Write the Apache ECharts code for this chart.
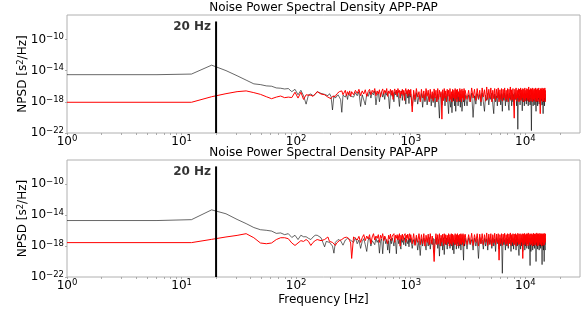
<!DOCTYPE html>
<html lang="en">
<head>
    <meta charset="UTF-8">
    <title>Noise Power Spectral Density</title>
    <script src="https://cdn.jsdelivr.net/npm/echarts@6.0.0/dist/echarts.min.js"></script>
    <style>
        html, body { margin: 0; padding: 0; background: #fff; }
        #chart { width: 587px; height: 314px; }
    </style>
</head>
<body>
    <div id="chart"></div>
    <script>
        // frequency bins [Hz]
        const freqLow = [
            1, 6.1, 12.2, 18.3, 24.4, 30.5, 36.6, 42.7, 48.8, 54.9,
            61, 67.1, 73.2, 79.3, 85.4, 91.6, 97.7, 103.8, 109.9, 116,
            122.1, 128.2, 134.3, 140.4, 146.5, 152.6, 158.7, 164.8, 170.9, 177,
            183.1, 189.2, 195.3, 201.4, 207.5, 213.6, 219.7, 225.8, 231.9, 238,
            244.1, 250.2, 256.3, 262.4, 268.6, 274.7, 280.8, 286.9, 293, 299.1
        ];
        const freqMid = [
            305, 317, 329, 341, 353, 365, 377, 389, 401, 413,
            425, 437, 449, 461, 473, 485, 497, 509, 521, 533,
            545, 557, 569, 581, 593, 605, 617, 629, 641, 653,
            665, 677, 689, 701, 713, 725, 737, 749, 761, 773,
            785, 797, 809, 821, 833, 845, 857, 869, 881, 893,
            905, 917, 929, 941, 953, 965, 977, 989
        ];
        const freqHigh1 = [
            1000, 1030, 1060, 1090, 1120, 1150, 1180, 1210, 1240, 1270,
            1300, 1330, 1360, 1390, 1420, 1450, 1480, 1510, 1540, 1570,
            1600, 1630, 1660, 1690, 1720, 1750, 1780, 1810, 1840, 1870,
            1900, 1930, 1960, 1990, 2020, 2050, 2080, 2110, 2140, 2170,
            2200, 2230, 2260, 2290, 2320, 2350, 2380, 2410, 2440, 2470,
            2500, 2530, 2560, 2590, 2620, 2650, 2680, 2710, 2740, 2770,
            2800, 2830, 2860, 2890, 2920, 2950, 2980
        ];
        const freqHigh2 = [
            3000, 3100, 3200, 3300, 3400, 3500, 3600, 3700, 3800, 3900,
            4000, 4100, 4200, 4300, 4400, 4500, 4600, 4700, 4800, 4900,
            5000, 5100, 5200, 5300, 5400, 5500, 5600, 5700, 5800, 5900,
            6000, 6100, 6200, 6300, 6400, 6500, 6600, 6700, 6800, 6900,
            7000, 7100, 7200, 7300, 7400, 7500, 7600, 7700, 7800, 7900,
            8000, 8100, 8200, 8300, 8400, 8500, 8600, 8700, 8800, 8900,
            9000, 9100, 9200, 9300, 9400, 9500, 9600, 9700, 9800, 9900,
            10000, 10100, 10200, 10300, 10400, 10500, 10600, 10700, 10800, 10900,
            11000, 11100, 11200, 11300, 11400, 11500, 11600, 11700, 11800, 11900,
            12000, 12100, 12200, 12300, 12400, 12500, 12600, 12700, 12800, 12900,
            13000, 13100, 13200, 13300, 13400, 13500, 13600, 13700, 13800, 13900,
            14000, 14100, 14200, 14300, 14400, 14500, 14600, 14700, 14800, 14900,
            15000
        ];
        const freqs = freqLow.concat(freqMid, freqHigh1, freqHigh2);

        // NPSD [s^2/Hz], panel APP-PAP
        const appPapBlack = [
            3e-15, 3e-15, 3.6e-15, 5e-14, 1e-14, 2.2e-15, 6e-16, 2e-16, 1.6e-16, 1.1e-16,
            1e-16, 6e-17, 5.5e-17, 4.4e-17, 5e-17, 2e-17, 4e-17, 8e-18, 3e-17, 6e-18,
            5e-19, 8e-18, 1e-17, 6e-18, 9e-18, 2e-17, 1.5e-17, 1.2e-17, 1.3e-17, 9e-18,
            7e-18, 6e-18, 1.1e-17, 5e-18, 9e-20, 6e-18, 3e-18, 5e-18, 8e-18, 4e-18,
            2e-18, 4.5e-20, 7e-18, 1.2e-17, 4e-18, 9e-18, 2e-18, 1.4e-17, 6e-18, 1e-17,
            // 305 - 989 Hz
            1e-17, 4e-18, 1.5e-17, 6e-18, 2e-17, 2.5e-19, 8e-18, 1.2e-17, 4e-19, 1e-17,
            5e-18, 2e-17, 3e-18, 1.5e-17, 8e-18, 2.5e-17, 4e-19, 6e-18, 1.8e-17, 1e-18,
            9e-18, 2e-17, 4e-18, 1.2e-17, 2e-18, 2.2e-17, 7e-18, 1.5e-17, 3e-18, 1.3e-19,
            1e-17, 2.5e-17, 5e-18, 1.4e-17, 1e-18, 2e-17, 8e-18, 3e-17, 4e-18, 1.6e-17,
            2e-18, 2.5e-19, 1.2e-17, 6e-18, 2.5e-17, 1.5e-18, 1e-17, 2e-17, 5e-18, 1.4e-17,
            5e-19, 9e-18, 2.2e-17, 3e-18, 1.2e-17, 6e-19, 1.8e-17, 4e-18,
            // 1000 - 2980 Hz
            1e-17, 3e-19, 8e-18, 1e-18, 1.5e-17, 5e-19, 6e-18, 2e-18, 1.2e-17, 2e-19,
            9e-18, 1e-18, 1.4e-17, 4e-19, 5e-18, 1.5e-18, 1.1e-17, 3e-19, 7e-18, 8e-19,
            1.3e-17, 2e-19, 4e-18, 1e-18, 1e-17, 5e-19, 8e-21, 6e-18, 1.2e-17, 4e-19,
            9e-18, 1.5e-18, 1.4e-17, 3e-19, 6e-18, 1e-18, 1.1e-17, 5e-19, 3e-20, 8e-18,
            1.3e-17, 2e-19, 5e-18, 4e-20, 1e-17, 1.2e-18, 7e-18, 3e-19, 1.5e-17, 6e-20,
            8e-18, 2e-18, 1.2e-17, 3e-19, 5e-18, 1e-18, 1e-17, 2e-19, 9e-18, 1.5e-18,
            6e-20, 4e-19, 6e-18, 1e-18, 1.1e-17, 3e-19, 8e-18,
            // 3000 - 15000 Hz
            1e-17, 3e-19, 8e-18, 1e-18, 1.3e-17, 1e-20, 6e-18, 5e-19, 1.1e-17, 2e-18,
            9e-18, 3e-19, 1.4e-17, 1e-18, 6e-20, 7e-18, 1.5e-18, 1.2e-17, 4e-19, 8e-18,
            2e-18, 1.3e-17, 5e-19, 3e-20, 1e-17, 1e-18, 6e-18, 3e-19, 1.5e-17, 2e-18,
            8e-18, 4e-19, 1.2e-17, 6e-20, 9e-18, 1.5e-18, 1.4e-17, 3e-19, 7e-18, 1e-18,
            1.1e-17, 5e-19, 8e-20, 1.3e-17, 2e-18, 8e-18, 3e-19, 1.2e-17, 1e-18, 9e-18,
            4e-19, 1.5e-17, 2e-18, 7e-18, 3e-19, 1.1e-17, 3e-22, 1e-17, 1.5e-18, 6e-18,
            4e-19, 1.3e-17, 2e-18, 9e-18, 7e-20, 1.2e-17, 1e-18, 8e-18, 3e-19, 1.4e-17,
            2e-18, 1e-17, 5e-19, 7e-18, 1.5e-18, 1.3e-17, 3e-19, 9e-18, 1e-18, 1.2e-17,
            4e-19, 8e-18, 2e-18, 2e-22, 1.1e-17, 1e-18, 1.4e-17, 3e-19, 7e-18, 1.5e-18,
            1.2e-17, 4e-19, 9e-18, 2e-18, 6e-20, 1.3e-17, 1e-18, 8e-18, 3e-19, 1.1e-17,
            2e-18, 1.4e-17, 5e-19, 7e-18, 1e-18, 1.2e-17, 3e-19, 9e-18, 1.5e-18, 1.3e-17,
            4e-19, 8e-18, 2e-18, 3e-20, 1.1e-17, 1e-18, 1.4e-17, 3e-19, 9e-18, 1.5e-18,
            1e-17
        ];
        const appPapRed = [
            8.7e-19, 8.7e-19, 8.7e-19, 4.5e-18, 1.1e-17, 2e-17, 2.5e-17, 1.5e-17, 9e-18, 4.5e-18,
            2.5e-18, 4e-18, 5.5e-18, 3.4e-18, 4e-18, 3.5e-18, 1.7e-17, 3e-18, 1.7e-17, 2e-18,
            8e-18, 7e-18, 7e-18, 5e-18, 1e-17, 2e-17, 1.5e-17, 1e-17, 1.2e-17, 8e-18,
            5e-18, 4e-18, 3e-18, 2.5e-18, 5e-18, 6e-18, 5e-18, 1e-17, 1.4e-17, 2e-17,
            1.5e-17, 2.5e-17, 8e-18, 1.2e-17, 3e-17, 6e-18, 2e-17, 8e-18, 2.5e-17, 5e-18,
            // 305 - 989 Hz
            2e-17, 8e-18, 3e-17, 1.2e-17, 4e-17, 6e-18, 2.5e-17, 1e-17, 3.5e-17, 5e-18,
            2e-17, 4e-17, 8e-18, 3e-17, 1.5e-17, 5e-17, 6e-18, 2.5e-17, 1e-17, 3.5e-17,
            4e-18, 2e-17, 4.5e-17, 9e-18, 3e-17, 1.4e-17, 5e-17, 5e-18, 2.5e-17, 1.2e-17,
            4e-17, 7e-18, 3e-17, 2e-18, 2e-17, 4.5e-17, 1e-17, 3e-17, 6e-18, 5e-17,
            1.5e-17, 3e-17, 3e-18, 2.5e-17, 1e-17, 4e-17, 7e-18, 3e-17, 1.5e-18, 2e-17,
            5e-17, 1e-17, 3e-17, 5e-18, 4e-17, 1.2e-17, 3e-17, 6e-18,
            // 1000 - 2980 Hz
            4e-17, 5e-20, 3e-17, 2e-18, 5e-17, 4e-18, 2e-17, 1e-18, 4e-17, 3e-18,
            2.5e-17, 1.5e-18, 5e-17, 5e-18, 3e-17, 1e-18, 4e-17, 2.5e-18, 2e-17, 1.2e-18,
            4.5e-17, 3e-18, 3e-17, 1e-18, 5e-17, 2e-18, 3e-17, 4e-18, 2e-17, 6e-21,
            3.5e-17, 1.5e-18, 5e-17, 3e-18, 2.5e-17, 1e-18, 4e-17, 5e-18, 3e-17, 1.2e-18,
            5e-17, 2e-18, 2e-17, 1e-18, 4e-17, 3e-18, 3e-17, 1.5e-18, 5e-17, 2.5e-18,
            3.5e-17, 1e-18, 4e-17, 4e-18, 2e-17, 1.2e-18, 5e-17, 2e-18, 3e-17, 1e-18,
            4.5e-17, 3e-18, 2.5e-17, 1.5e-18, 5e-17, 2e-18, 3e-17,
            // 3000 - 15000 Hz
            5e-17, 2e-18, 3e-17, 1e-18, 6e-17, 3e-18, 4e-17, 1.5e-18, 5e-17, 2.5e-18,
            3e-17, 1e-18, 6e-17, 4e-18, 3.5e-17, 1.2e-18, 8e-17, 2e-18, 4e-17, 3e-18,
            6e-17, 1e-18, 3e-17, 2.5e-18, 5e-17, 1.5e-18, 4e-17, 3e-18, 6e-17, 1e-18,
            3.5e-17, 2e-18, 5e-17, 1.2e-18, 4e-17, 3e-18, 6e-17, 1.5e-18, 3e-17, 2e-18,
            5e-17, 1e-18, 4e-17, 3e-18, 8e-17, 1.5e-18, 3.5e-17, 2e-18, 5e-17, 1e-18,
            8e-21, 4e-17, 2.5e-18, 6e-17, 1.2e-18, 3e-17, 3e-18, 5e-17, 1e-18, 4e-17,
            2e-18, 6e-17, 1.5e-18, 3.5e-17, 3e-18, 5e-17, 1e-18, 4e-17, 2e-18, 6e-17,
            1.2e-18, 3e-17, 3e-18, 5e-17, 1.5e-18, 4e-17, 2e-18, 8e-17, 1e-18, 3.5e-17,
            3e-18, 5e-17, 1.2e-18, 4e-17, 2.5e-18, 6e-17, 1e-18, 3e-17, 2e-18, 5e-17,
            1.5e-18, 4e-17, 3e-18, 6e-17, 1e-18, 3.5e-17, 2e-18, 5e-17, 1.2e-18, 4e-17,
            3e-18, 6e-17, 1e-18, 3e-17, 2e-18, 3e-20, 5e-17, 1.5e-18, 4e-17, 2.5e-18,
            6e-17, 1e-18, 3.5e-17, 2e-18, 5e-17, 1.2e-18, 4e-17, 3e-18, 6e-17, 1e-18,
            3e-17
        ];

        // NPSD [s^2/Hz], panel PAP-APP
        const papAppBlack = [
            2e-15, 2e-15, 2.6e-15, 4.8e-14, 1.5e-14, 2.8e-15, 8e-16, 2.5e-16, 1.3e-16, 1.1e-16,
            8.7e-17, 4.4e-17, 5e-17, 3e-17, 4e-17, 1.3e-17, 2.5e-17, 7e-18, 2.5e-17, 1.6e-17,
            1.6e-17, 1e-17, 7e-18, 1.5e-17, 2.5e-17, 2.5e-17, 1.5e-17, 1.2e-17, 3e-18, 8e-19,
            4e-18, 4e-18, 3e-18, 2e-18, 1e-18, 1.2e-19, 3e-18, 5e-18, 7e-18, 6e-18,
            5e-18, 3e-18, 1.3e-18, 1.2e-18, 6e-18, 8e-18, 1e-17, 1e-17, 7e-18, 6e-18,
            // 305 - 989 Hz
            8e-18, 3e-18, 1.2e-17, 2e-18, 6e-18, 5e-19, 4e-18, 9e-18, 1.5e-18, 2e-19,
            6e-18, 1.2e-17, 1e-18, 5e-18, 8e-18, 1.5e-18, 1e-17, 3e-18, 6e-18, 1.2e-19,
            4e-18, 9e-18, 1e-19, 6e-18, 1.2e-17, 2e-18, 7e-18, 3e-19, 5e-18, 1.2e-19,
            8e-18, 2e-18, 1.1e-17, 4e-18, 1e-18, 9e-18, 3e-18, 1e-19, 6e-18, 1.3e-17,
            2e-18, 7e-18, 1e-18, 4e-19, 1e-17, 3e-18, 6e-18, 1.5e-18, 1.2e-17, 5e-18,
            1e-18, 8e-18, 1.2e-17, 2e-18, 6e-18, 8e-19, 1e-17, 3e-18,
            // 1000 - 2980 Hz
            1e-17, 5e-19, 7e-18, 1.5e-18, 1.2e-17, 3e-19, 5e-18, 6e-20, 9e-18, 1e-18,
            1.1e-17, 2e-18, 3e-19, 8e-18, 1e-18, 1.3e-17, 4e-19, 6e-18, 1.5e-18, 1e-17,
            1.5e-19, 8e-18, 2e-18, 1.2e-17, 5e-19, 7e-18, 5e-20, 1e-17, 1e-18, 9e-18,
            3e-19, 1.2e-17, 8e-20, 6e-18, 1.5e-18, 1.1e-17, 4e-19, 8e-18, 2e-18, 1.3e-17,
            5e-19, 7e-18, 1e-18, 1.2e-17, 3e-19, 9e-18, 1e-19, 6e-18, 1.5e-18, 1.1e-17,
            4e-19, 8e-18, 2e-18, 1.3e-17, 5e-19, 7e-18, 1e-18, 1e-17, 3e-19, 9e-18,
            1.5e-18, 1.2e-17, 4e-19, 1.5e-20, 8e-18, 1e-18, 1.1e-17,
            // 3000 - 15000 Hz
            9e-18, 4e-19, 1.2e-17, 1.5e-18, 7e-18, 3e-19, 1.1e-17, 1e-18, 8e-18, 2.5e-20,
            1.3e-17, 2e-18, 6e-18, 4e-19, 1e-17, 1e-18, 9e-18, 3e-19, 1.2e-17, 1.5e-18,
            7e-18, 5e-19, 1.1e-17, 1e-18, 8e-18, 2e-19, 1.3e-17, 2e-18, 6e-18, 4e-19,
            1e-17, 1e-18, 9e-18, 3e-22, 1.2e-17, 1.5e-18, 7e-18, 3e-19, 1.1e-17, 1e-18,
            8e-18, 5e-19, 1.3e-17, 2e-18, 6e-18, 2e-19, 1e-17, 1e-18, 9e-18, 4e-19,
            1.2e-17, 1.5e-18, 7e-18, 3e-19, 1.1e-17, 1e-18, 8e-18, 5e-19, 6e-20, 2e-18,
            6e-18, 4e-19, 1e-17, 1e-18, 9e-18, 2e-19, 1.2e-17, 1.5e-18, 7e-18, 3e-19,
            1.1e-17, 1e-18, 8e-18, 5e-19, 1.3e-17, 2e-18, 6e-18, 4e-19, 1e-17, 1e-18,
            3e-21, 9e-18, 2e-19, 1.2e-17, 1.5e-18, 7e-18, 3e-19, 1.1e-17, 1e-18, 8e-18,
            5e-19, 1.3e-17, 2e-18, 6e-18, 1e-20, 1e-17, 1e-18, 9e-18, 4e-19, 1.2e-17,
            1.5e-18, 7e-18, 3e-19, 1.1e-17, 1e-18, 8e-18, 5e-19, 1.3e-17, 2e-18, 6e-18,
            4e-21, 1e-17, 1e-18, 9e-18, 3e-19, 1.2e-17, 1e-20, 7e-18, 1.5e-18, 1e-17,
            3e-19
        ];
        const papAppRed = [
            2.8e-18, 2.8e-18, 2.8e-18, 7.4e-18, 1.5e-17, 2.4e-17, 4e-17, 1.2e-17, 2.5e-18, 2e-18,
            2.5e-18, 7e-18, 1.2e-17, 1.2e-17, 9e-18, 2.5e-18, 1.2e-18, 2.5e-18, 5e-18, 4e-18,
            7e-18, 4e-18, 1.2e-18, 3e-18, 5e-18, 7e-18, 6e-18, 5e-18, 6e-18, 7e-18,
            1e-17, 1.5e-17, 4e-18, 3.5e-18, 3e-18, 2e-18, 1.2e-18, 2.5e-18, 4e-18, 5e-18,
            6e-18, 7e-18, 1e-17, 1.2e-17, 1.5e-17, 1.4e-17, 1.6e-17, 1e-17, 5e-18, 2.5e-18,
            // 305 - 989 Hz
            2.5e-20, 1.5e-17, 2.5e-17, 6e-18, 1.8e-17, 3e-18, 1.2e-17, 3e-17, 5e-18, 2e-17,
            8e-18, 3e-17, 2e-18, 1.5e-17, 4e-17, 6e-18, 2e-17, 1e-17, 3e-17, 3e-18,
            2.5e-17, 1e-17, 4e-17, 5e-18, 2e-17, 1.2e-17, 3e-17, 2e-18, 2.5e-17, 8e-18,
            3.5e-17, 5e-18, 2e-17, 1.5e-17, 4e-17, 3e-18, 2.5e-17, 1e-17, 3e-17, 6e-18,
            2e-17, 4e-17, 1e-18, 2.5e-17, 8e-18, 3.5e-17, 5e-18, 2e-17, 1.2e-17, 4e-17,
            3e-18, 2.5e-17, 1e-17, 3.5e-17, 6e-18, 2e-17, 4e-17, 8e-18,
            // 1000 - 2980 Hz
            3e-17, 2e-18, 4e-17, 1.2e-18, 2.5e-17, 3e-18, 4e-17, 1.5e-18, 3e-17, 2e-18,
            4e-17, 1e-18, 2.5e-17, 3e-18, 3.5e-17, 1.5e-18, 4e-17, 2e-18, 2e-17, 1.2e-18,
            1e-20, 3e-18, 4e-17, 1.5e-18, 3e-17, 2e-18, 4e-17, 1e-18, 2.5e-17, 3e-18,
            3.5e-17, 1.2e-18, 4e-17, 2e-18, 3e-17, 1.5e-18, 2.5e-17, 3e-18, 4e-17, 1e-18,
            3e-17, 2e-18, 4e-17, 1.2e-18, 3.5e-17, 3e-18, 2.5e-17, 1.5e-18, 4e-17, 2e-18,
            3e-17, 1e-18, 4e-17, 3e-18, 2.5e-17, 1.2e-18, 3.5e-17, 2e-18, 4e-17, 1.5e-18,
            3e-17, 3e-18, 4e-17, 1e-18, 2.5e-17, 2e-18, 3.5e-17,
            // 3000 - 15000 Hz
            4e-17, 1.5e-18, 3e-17, 2e-18, 4.5e-17, 1.2e-18, 3e-17, 3e-18, 4e-17, 1e-18,
            3.5e-17, 2e-18, 4e-17, 1.5e-18, 3e-17, 3e-18, 5e-17, 1.2e-18, 3.5e-17, 2e-18,
            4e-17, 1e-18, 3e-17, 2.5e-18, 4.5e-17, 1.5e-18, 3.5e-17, 3e-18, 4e-17, 1.5e-20,
            3e-17, 2e-18, 4e-17, 1.2e-18, 3.5e-17, 3e-18, 4.5e-17, 1.5e-18, 3e-17, 2e-18,
            4e-17, 1e-18, 3.5e-17, 2.5e-18, 5e-17, 1.2e-18, 3e-17, 3e-18, 4e-17, 1.5e-18,
            3.5e-17, 2e-18, 4e-17, 1e-18, 3e-17, 3e-18, 4.5e-17, 1.5e-18, 3.5e-17, 2e-18,
            4e-17, 1.2e-18, 3e-17, 3e-18, 4e-17, 2.5e-20, 3.5e-17, 2e-18, 4.5e-17, 1.5e-18,
            3e-17, 3e-18, 4e-17, 1e-18, 3.5e-17, 2e-18, 5e-17, 1.2e-18, 3e-17, 3e-18,
            4e-17, 1.5e-18, 3.5e-17, 2e-18, 4e-17, 1e-18, 3e-17, 3e-18, 4.5e-17, 1.2e-18,
            3.5e-17, 2e-18, 4e-17, 1.5e-18, 3e-17, 3e-18, 5e-17, 1e-18, 3.5e-17, 2e-18,
            4e-17, 1.2e-18, 3e-17, 3e-18, 4.5e-17, 1.5e-18, 3.5e-17, 2e-18, 4e-17, 1e-18,
            3e-17, 3e-18, 4e-17, 1.2e-18, 3.5e-17, 2e-18, 4.5e-17, 1.5e-18, 3e-17, 3e-18,
            4e-17
        ];

        const panelTitles = ['Noise Power Spectral Density APP-PAP', 'Noise Power Spectral Density PAP-APP'];
        const markerFreq = 20;          // vertical marker [Hz]
        const markerText = '20 Hz';
        const xLabelValues = [1, 10, 100, 1000, 10000];
        const xMinorValues = [
            2, 3, 4, 5, 6, 7, 8, 9,
            20, 30, 40, 50, 60, 70, 80, 90,
            200, 300, 400, 500, 600, 700, 800, 900,
            2000, 3000, 4000, 5000, 6000, 7000, 8000, 9000,
            20000
        ];
        const yLabelValues = [1e-22, 1e-18, 1e-14, 1e-10];

        const FONT = "'DejaVu Sans', sans-serif";
        const X_MIN = 1, X_MAX = 30000;
        const Y_MIN = 1e-22, Y_MAX = 1.35e-7;
        const MARKER_TOP = 2e-8, MARKER_LABEL_Y = 3.5e-9;

        const supRich = {
            b: { fontSize: 12, lineHeight: 14, color: '#000', fontFamily: FONT },
            s: { fontSize: 8.5, lineHeight: 8, verticalAlign: 'top', color: '#000', fontFamily: FONT },
            n: { fontSize: 12, lineHeight: 14, color: '#000', fontFamily: FONT }
        };

        function powLabel(v) {
            const e = Math.round(Math.log10(v));
            return '{b|10}{s|' + (e < 0 ? '\u2212' + (-e) : e) + '}';
        }

        function pairs(xs, ys) {
            return xs.map((x, i) => [x, ys[i]]);
        }

        const grids = [
            { left: 67, top: 15, width: 513, height: 118 },
            { left: 67, top: 160, width: 513, height: 117 }
        ];

        const panels = [
            { black: appPapBlack, red: appPapRed },
            { black: papAppBlack, red: papAppRed }
        ];

        const option = {
            animation: false,
            backgroundColor: '#fff',
            textStyle: { fontFamily: FONT },
            title: panelTitles.map((t, i) => ({
                text: t,
                left: 323.5,
                top: i === 0 ? 2 : 147,
                textAlign: 'center',
                padding: 0,
                textStyle: { fontSize: 12, fontWeight: 'normal', color: '#000', fontFamily: FONT }
            })),
            grid: grids.map(g => Object.assign({
                show: true, borderColor: '#b0b0b0', borderWidth: 1, backgroundColor: 'transparent'
            }, g)),
            xAxis: grids.map((g, i) => ({
                type: 'log', logBase: 10, gridIndex: i, min: X_MIN, max: X_MAX,
                axisLine: { show: false },
                axisTick: {
                    show: true, length: 2, customValues: xLabelValues.concat(xMinorValues),
                    lineStyle: { color: '#999', width: 0.8 }
                },
                axisLabel: { customValues: xLabelValues, formatter: powLabel, margin: 1.5, rich: supRich },
                splitLine: { show: false },
                minorTick: { show: false },
                name: i === 1 ? 'Frequency [Hz]' : '',
                nameLocation: 'middle',
                nameGap: 17,
                nameMoveOverlap: false,
                nameTextStyle: { fontSize: 12, color: '#000', fontFamily: FONT }
            })),
            yAxis: grids.map((g, i) => ({
                type: 'log', logBase: 10, gridIndex: i, min: Y_MIN, max: Y_MAX,
                axisLine: { show: false },
                axisTick: {
                    show: true, length: 2, customValues: yLabelValues,
                    lineStyle: { color: '#999', width: 0.8 }
                },
                axisLabel: { customValues: yLabelValues, formatter: powLabel, margin: 3, rich: supRich },
                splitLine: { show: false },
                minorTick: { show: false },
                name: '{n|NPSD [s}{s|2}{n|/Hz]}',
                nameLocation: 'middle',
                nameRotate: 90,
                nameGap: 37,
                nameMoveOverlap: false,
                nameTextStyle: { rich: supRich }
            })),
            series: []
        };

        panels.forEach((p, i) => {
            option.series.push({
                type: 'line', xAxisIndex: i, yAxisIndex: i,
                data: pairs(freqs, p.black),
                symbol: 'none', sampling: null, clip: true,
                lineStyle: { color: '#000', width: 0.6 },
                z: 2
            });
            option.series.push({
                type: 'line', xAxisIndex: i, yAxisIndex: i,
                data: pairs(freqs, p.red),
                symbol: 'none', clip: true,
                lineStyle: { color: '#ff0000', width: 1 },
                z: 3
            });
            option.series.push({
                type: 'line', xAxisIndex: i, yAxisIndex: i,
                data: [[markerFreq, Y_MIN], [markerFreq, MARKER_TOP]],
                symbol: 'none', clip: true,
                lineStyle: { color: '#000', width: 2 },
                z: 4
            });
            option.series.push({
                type: 'scatter', xAxisIndex: i, yAxisIndex: i,
                data: [[markerFreq, MARKER_LABEL_Y]],
                symbolSize: 0,
                label: {
                    show: true, position: 'left', distance: 5,
                    formatter: markerText,
                    fontSize: 12, fontWeight: 'bold', color: '#000', fontFamily: FONT
                },
                z: 5
            });
        });

        const chart = echarts.init(document.getElementById('chart'));
        chart.setOption(option);
    </script>
</body>
</html>
